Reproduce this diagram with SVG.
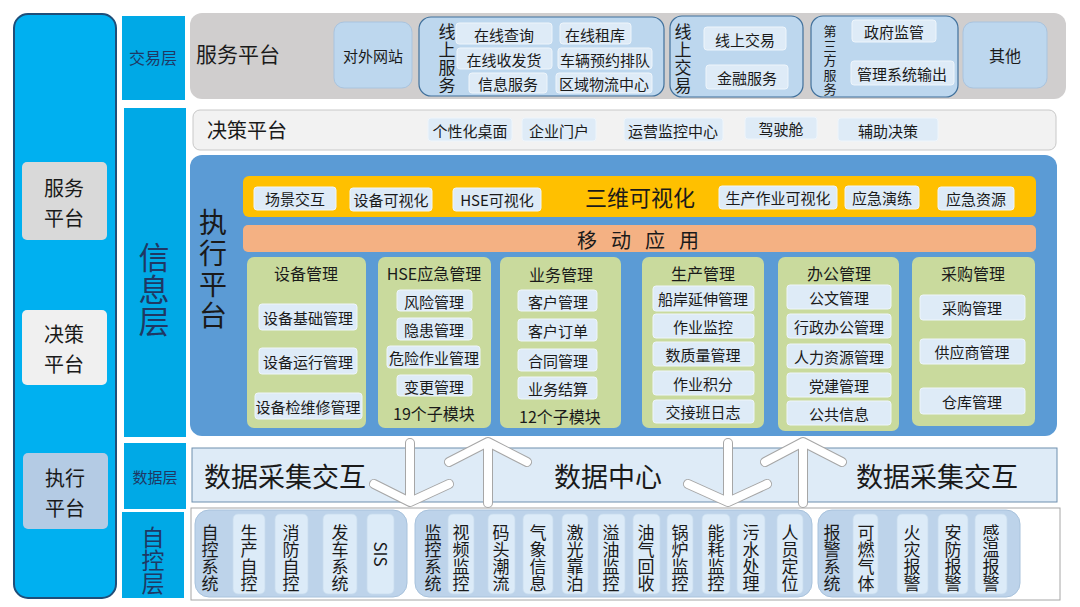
<svg xmlns="http://www.w3.org/2000/svg" width="1080" height="607" viewBox="0 0 1080 607">
<defs>
<style>
text{font-family:"Noto Sans CJK SC","Noto Sans",sans-serif;fill:#1a1a1a;}
.c{text-anchor:middle;dominant-baseline:central;}
.v{writing-mode:vertical-rl;text-anchor:middle;}
.lab{fill:#00a9e6;}
.side{fill:#00b0f0;stroke:#1f4e79;stroke-width:2;}
.itm{fill:#deebf7;stroke:#eef5fb;stroke-width:1;}
.grp{fill:#bdd7ee;stroke:#41719c;stroke-width:1.2;}
.mod{fill:#c9da9d;}
.f13{font-size:13px;}
.f15{font-size:15px;}
.f16{font-size:16px;}
.f17{font-size:17px;}
.f20{font-size:20px;}
.f27{font-size:27px;}
.navy{fill:#1f3864;}
.bgrp{fill:#bdd3ea;stroke:#a8c2dc;stroke-width:1;}
.bitm{fill:#dcebf8;stroke:#c8dcee;stroke-width:0.8;}
.arrO{fill:none;stroke:#a6a6a6;stroke-width:10;stroke-linecap:round;stroke-linejoin:round;}
.arrI{fill:none;stroke:#ffffff;stroke-width:8;stroke-linecap:round;stroke-linejoin:round;}
</style>
</defs>
<rect width="1080" height="607" fill="#ffffff"/>

<g id="sidebar">
<rect class="side" x="14" y="14" width="102" height="584" rx="14"/>
<rect x="22" y="162" width="85" height="78" rx="5" fill="#d9d9d9"/>
<text class="c f20" x="64" y="187">服务</text>
<text class="c f20" x="64" y="217">平台</text>
<rect x="22" y="310" width="85" height="75" rx="5" fill="#f0f0f0"/>
<text class="c f20" x="64" y="333">决策</text>
<text class="c f20" x="64" y="363">平台</text>
<rect x="23" y="453" width="85" height="76" rx="5" fill="#b4cbe4"/>
<text class="c f20" x="65" y="477">执行</text>
<text class="c f20" x="65" y="507">平台</text>
</g>

<g id="layer-labels">
<rect class="lab" x="122" y="16" width="63" height="84"/>
<text class="c f16 navy" x="153" y="57">交易层</text>
<rect class="lab" x="124" y="108" width="62" height="329"/>
<text class="v navy" style="font-size:31px;letter-spacing:1px" x="154" y="290">信息层</text>
<rect class="lab" x="124" y="443" width="62" height="66"/>
<text class="c f15 navy" x="155" y="476">数据层</text>
<rect class="lab" x="122" y="512" width="62" height="86"/>
<text class="v navy" style="font-size:23px" x="153" y="560">自控层</text>
</g>

<g id="service-platform">
<rect x="190" y="13" width="876" height="86" rx="12" fill="#d0cece"/>
<text style="font-size:21px" x="196" y="62">服务平台</text>
<rect x="334" y="22" width="78" height="66" rx="10" fill="#bdd7ee" stroke="#a9c4df"/>
<text class="c f15" x="373" y="55">对外网站</text>

<rect class="grp" x="419" y="17" width="245" height="79" rx="12"/>
<text class="v f17" style="letter-spacing:1px" x="447" y="59">线上服务</text>
<rect class="itm" x="456" y="23" width="96" height="21" rx="3"/><text class="c f15" x="504" y="34">在线查询</text>
<rect class="itm" x="560" y="23" width="71" height="21" rx="3"/><text class="c f15" x="595" y="34">在线租库</text>
<rect class="itm" x="457" y="48" width="95" height="21" rx="3"/><text class="c f15" x="504" y="59">在线收发货</text>
<rect class="itm" x="558" y="48" width="94" height="21" rx="3"/><text class="c f15" x="605" y="59">车辆预约排队</text>
<rect class="itm" x="469" y="73" width="78" height="20" rx="3"/><text class="c f15" x="508" y="83">信息服务</text>
<rect class="itm" x="556" y="73" width="96" height="20" rx="3"/><text class="c f15" x="604" y="83">区域物流中心</text>

<rect class="grp" x="670" y="16" width="133" height="81" rx="12"/>
<text class="v f17" style="letter-spacing:1px" x="683" y="59">线上交易</text>
<rect class="itm" x="704" y="27" width="82" height="23" rx="3"/><text class="c f15" x="745" y="39">线上交易</text>
<rect class="itm" x="706" y="65" width="82" height="24" rx="3"/><text class="c f15" x="747" y="77">金融服务</text>

<rect class="grp" x="811" y="16" width="147" height="81" rx="12"/>
<text class="v f13" style="letter-spacing:1.5px" x="830" y="61">第三方服务</text>
<rect class="itm" x="852" y="20" width="84" height="22" rx="3"/><text class="c f15" x="894" y="31">政府监管</text>
<rect class="itm" x="851" y="61" width="103" height="24" rx="3"/><text class="c f15" x="902" y="73">管理系统输出</text>

<rect x="963" y="22" width="84" height="66" rx="10" fill="#bdd7ee" stroke="#a9c4df"/>
<text class="c f16" x="1005" y="55">其他</text>
</g>

<g id="decision-platform">
<rect x="193" y="110" width="863" height="40" rx="7" fill="#f2f2f2" stroke="#c8c8c8"/>
<text class="f20" x="207" y="138">决策平台</text>
<rect class="itm" x="428" y="118" width="84" height="23" rx="3"/><text class="c f15" x="470" y="130">个性化桌面</text>
<rect class="itm" x="522" y="118" width="74" height="23" rx="3"/><text class="c f15" x="559" y="130">企业门户</text>
<rect class="itm" x="624" y="118" width="99" height="23" rx="3"/><text class="c f15" x="673" y="130">运营监控中心</text>
<rect class="itm" x="745" y="117" width="72" height="22" rx="3"/><text class="c f15" x="781" y="128">驾驶舱</text>
<rect class="itm" x="838" y="118" width="100" height="23" rx="3"/><text class="c f15" x="888" y="130">辅助决策</text>
</g>

<g id="execution-platform">
<rect x="190" y="155" width="867" height="281" rx="12" fill="#5b9bd5"/>
<text class="v" style="font-size:28px;letter-spacing:3px" x="213" y="270">执行平台</text>
</g>

<g id="visual-3d">
<rect x="243" y="176" width="793" height="41" rx="6" fill="#ffc000"/>
<rect class="itm" x="254" y="187" width="82" height="23" rx="3"/><text class="c f15" x="295" y="198">场景交互</text>
<rect class="itm" x="350" y="188" width="82" height="23" rx="3"/><text class="c f15" x="391" y="199">设备可视化</text>
<rect class="itm" x="453" y="188" width="88" height="23" rx="3"/><text class="c f15" x="497" y="199">HSE可视化</text>
<text class="c" style="font-size:22px" x="640" y="196">三维可视化</text>
<rect class="itm" x="719" y="186" width="118" height="23" rx="3"/><text class="c f15" x="778" y="197">生产作业可视化</text>
<rect class="itm" x="845" y="186" width="74" height="23" rx="3"/><text class="c f15" x="882" y="197">应急演练</text>
<rect class="itm" x="938" y="187" width="76" height="23" rx="3"/><text class="c f15" x="976" y="198">应急资源</text>
</g>

<g id="mobile-app">
<rect x="243" y="225" width="793" height="27" rx="5" fill="#f4b183"/>
<text class="c f20" x="645" y="239" style="letter-spacing:14px">移动应用</text>
</g>

<g id="mod-equipment">
<rect class="mod" x="247" y="257" width="119" height="171" rx="7"/>
<text class="c f16" x="306" y="273">设备管理</text>
<rect class="itm" x="259" y="304" width="98" height="26" rx="3"/><text class="c f15" x="308" y="317">设备基础管理</text>
<rect class="itm" x="259" y="348" width="98" height="26" rx="3"/><text class="c f15" x="308" y="361">设备运行管理</text>
<rect class="itm" x="255" y="393" width="107" height="26" rx="3"/><text class="c f15" x="308" y="406">设备检维修管理</text>
</g>

<g id="mod-hse">
<rect class="mod" x="378" y="257" width="113" height="171" rx="7"/>
<text class="c f16" x="434" y="273">HSE应急管理</text>
<rect class="itm" x="397" y="290" width="75" height="21" rx="3"/><text class="c f15" x="434" y="301">风险管理</text>
<rect class="itm" x="397" y="318" width="75" height="22" rx="3"/><text class="c f15" x="434" y="329">隐患管理</text>
<rect class="itm" x="387" y="346" width="93" height="22" rx="3"/><text class="c f15" x="434" y="357">危险作业管理</text>
<rect class="itm" x="397" y="375" width="75" height="21" rx="3"/><text class="c f15" x="434" y="386">变更管理</text>
<text class="c f16" x="434" y="413">19个子模块</text>
</g>

<g id="mod-business">
<rect class="mod" x="500" y="257" width="121" height="171" rx="7"/>
<text class="c f16" x="561" y="274">业务管理</text>
<rect class="itm" x="518" y="290" width="79" height="21" rx="3"/><text class="c f15" x="558" y="301">客户管理</text>
<rect class="itm" x="518" y="319" width="79" height="22" rx="3"/><text class="c f15" x="558" y="330">客户订单</text>
<rect class="itm" x="518" y="349" width="79" height="22" rx="3"/><text class="c f15" x="558" y="360">合同管理</text>
<rect class="itm" x="518" y="377" width="79" height="22" rx="3"/><text class="c f15" x="558" y="388">业务结算</text>
<text class="c f16" x="560" y="416">12个子模块</text>
</g>

<g id="mod-production">
<rect class="mod" x="642" y="257" width="122" height="171" rx="7"/>
<text class="c f16" x="703" y="273">生产管理</text>
<rect class="itm" x="653" y="286" width="101" height="25" rx="3"/><text class="c f15" x="703" y="298">船岸延伸管理</text>
<rect class="itm" x="653" y="314" width="101" height="24" rx="3"/><text class="c f15" x="703" y="326">作业监控</text>
<rect class="itm" x="653" y="342" width="101" height="24" rx="3"/><text class="c f15" x="703" y="354">数质量管理</text>
<rect class="itm" x="653" y="371" width="101" height="24" rx="3"/><text class="c f15" x="703" y="383">作业积分</text>
<rect class="itm" x="653" y="400" width="101" height="23" rx="3"/><text class="c f15" x="703" y="411">交接班日志</text>
</g>

<g id="mod-office">
<rect class="mod" x="778" y="257" width="121" height="174" rx="7"/>
<text class="c f16" x="839" y="273">办公管理</text>
<rect class="itm" x="787" y="285" width="104" height="24" rx="3"/><text class="c f15" x="839" y="297">公文管理</text>
<rect class="itm" x="787" y="314" width="104" height="24" rx="3"/><text class="c f15" x="839" y="326">行政办公管理</text>
<rect class="itm" x="787" y="344" width="104" height="24" rx="3"/><text class="c f15" x="839" y="356">人力资源管理</text>
<rect class="itm" x="787" y="373" width="104" height="24" rx="3"/><text class="c f15" x="839" y="385">党建管理</text>
<rect class="itm" x="787" y="401" width="104" height="24" rx="3"/><text class="c f15" x="839" y="413">公共信息</text>
</g>

<g id="mod-purchase">
<rect class="mod" x="912" y="257" width="123" height="169" rx="7"/>
<text class="c f16" x="973" y="273">采购管理</text>
<rect class="itm" x="920" y="295" width="105" height="25" rx="3"/><text class="c f15" x="972" y="307">采购管理</text>
<rect class="itm" x="920" y="339" width="105" height="25" rx="3"/><text class="c f15" x="972" y="351">供应商管理</text>
<rect class="itm" x="920" y="388" width="105" height="26" rx="3"/><text class="c f15" x="972" y="401">仓库管理</text>
</g>

<g id="data-layer">
<rect x="192" y="448" width="865" height="54" fill="#deebf7" stroke="#6f8fae" stroke-width="1"/>
</g>

<g id="connectors">
<path class="arrO" d="M410 443 L410 501 M374 484 L410 502 L449 484"/>
<path class="arrI" d="M410 443 L410 501 M374 484 L410 502 L449 484"/>
<path class="arrO" d="M488 503 L488 443 M449 462 L488 442 L527 462"/>
<path class="arrI" d="M488 503 L488 443 M449 462 L488 442 L527 462"/>
<path class="arrO" d="M728 443 L728 501 M688 484 L728 502 L767 484"/>
<path class="arrI" d="M728 443 L728 501 M688 484 L728 502 L767 484"/>
<path class="arrO" d="M803 503 L803 443 M765 462 L803 442 L842 462"/>
<path class="arrI" d="M803 503 L803 443 M765 462 L803 442 L842 462"/>
</g>

<g id="data-labels">
<text class="c f27" x="285" y="475">数据采集交互</text>
<text class="c f27" x="608" y="475">数据中心</text>
<text class="c f27" x="937" y="475">数据采集交互</text>
</g>

<g id="control-layer">
<rect x="191" y="508" width="869" height="92" fill="#ffffff" stroke="#a6a6a6" stroke-width="1"/>

<rect class="bgrp" x="195" y="510" width="212" height="87" rx="14"/>
<text class="v f17" x="210" y="558">自控系统</text>
<rect class="bitm" x="233" y="514" width="32" height="80" rx="5"/>
<text class="v f17" x="249" y="558">生产自控</text>
<rect class="bitm" x="275" y="514" width="33" height="80" rx="5"/>
<text class="v f17" x="291" y="558">消防自控</text>
<rect class="bitm" x="323" y="514" width="34" height="80" rx="5"/>
<text class="v f17" x="340" y="558">发车系统</text>
<rect class="bitm" x="367" y="514" width="27" height="80" rx="5"/>
<text class="c f17" transform="translate(381 554) rotate(90)" x="0" y="0">SIS</text>

<rect class="bgrp" x="415" y="510" width="397" height="87" rx="14"/>
<text class="v f17" x="433" y="558">监控系统</text>
<rect class="bitm" x="448" y="514" width="26" height="80" rx="5"/>
<text class="v f17" x="461" y="558">视频监控</text>
<rect class="bitm" x="488" y="514" width="27" height="80" rx="5"/>
<text class="v f17" x="501" y="558">码头潮流</text>
<rect class="bitm" x="523" y="514" width="30" height="80" rx="5"/>
<text class="v f17" x="538" y="558">气象信息</text>
<rect class="bitm" x="562" y="514" width="26" height="80" rx="5"/>
<text class="v f17" x="575" y="558">激光靠泊</text>
<rect class="bitm" x="598" y="514" width="27" height="80" rx="5"/>
<text class="v f17" x="611" y="558">溢油监控</text>
<rect class="bitm" x="633" y="514" width="27" height="80" rx="5"/>
<text class="v f17" x="646" y="558">油气回收</text>
<rect class="bitm" x="667" y="514" width="26" height="80" rx="5"/>
<text class="v f17" x="680" y="558">锅炉监控</text>
<rect class="bitm" x="702" y="514" width="28" height="80" rx="5"/>
<text class="v f17" x="716" y="558">能耗监控</text>
<rect class="bitm" x="737" y="514" width="28" height="80" rx="5"/>
<text class="v f17" x="751" y="558">污水处理</text>
<rect class="bitm" x="777" y="514" width="26" height="80" rx="5"/>
<text class="v f17" x="790" y="558">人员定位</text>

<rect class="bgrp" x="818" y="510" width="202" height="87" rx="14"/>
<text class="v f17" x="832" y="558">报警系统</text>
<rect class="bitm" x="853" y="514" width="25" height="80" rx="5"/>
<text class="v f17" x="866" y="558">可燃气体</text>
<rect class="bitm" x="897" y="514" width="31" height="80" rx="5"/>
<text class="v f17" x="912" y="558">火灾报警</text>
<rect class="bitm" x="938" y="514" width="30" height="80" rx="5"/>
<text class="v f17" x="953" y="558">安防报警</text>
<rect class="bitm" x="975" y="514" width="32" height="80" rx="5"/>
<text class="v f17" x="991" y="558">感温报警</text>
</g>
</svg>
